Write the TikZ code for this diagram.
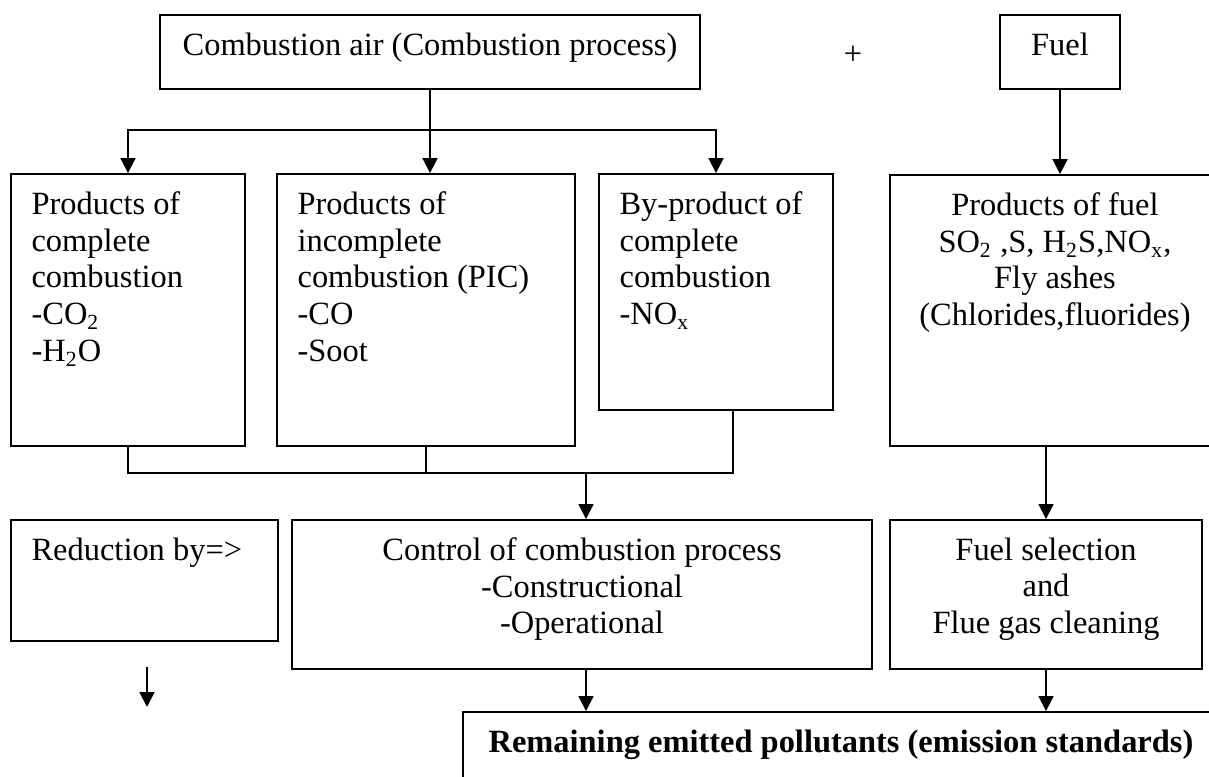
\documentclass[tikz,border=0pt]{standalone}
\usepackage{fontspec}
\setmainfont{Liberation Serif}
\usetikzlibrary{positioning, arrows.meta, fit}

\begin{document}
\begin{tikzpicture}[
  x=0.013cm, y=-0.013cm,
  font=\fontsize{12pt}{13.6pt}\selectfont,
  box/.style={rectangle, draw, line width=0.7pt, inner sep=0pt},
  ltxt/.style={anchor=north west, align=left, inner sep=0pt,
               xshift=0.273cm, yshift=-0.234cm},
  ctxt/.style={anchor=north, align=center, inner sep=0pt, yshift=-0.234cm},
  arr/.style={-{Triangle[length=5.5pt, width=5.5pt]}, line width=0.7pt},
  link/.style={line width=0.7pt},
]
  \useasboundingbox (0,0) rectangle (1209,776);

  % inputs
  \node[box, fit={(160,15) (700,89)},
        label={[ctxt]north:{Combustion air (Combustion process)}}] (air) {};
  \node[inner sep=0pt] (plus) at (853,55) {+};
  \node[box, fit={(1000,15) (1120,89)}, label={[ctxt]north:{Fuel}}] (fuel) {};

  % products
  \node[box, fit={(11,174) (245,446)},
        label={[ltxt]north west:{Products of\\complete\\combustion\\-CO\textsubscript{2}\\-H\textsubscript{2}O}}] (cpl) {};
  \node[box, fit={(277,174) (575,446)},
        label={[ltxt]north west:{Products of\\incomplete\\combustion (PIC)\\-CO\\-Soot}}] (pic) {};
  \node[box, fit={(599,174) (833,410)},
        label={[ltxt]north west:{By-product of\\complete\\combustion\\-NO\textsubscript{x}}}] (byp) {};
  \node[box, fit={(890,175) (1220,446)},
        label={[ctxt]north:{Products of fuel\\SO\textsubscript{2} ,S, H\textsubscript{2}S,NO\textsubscript{x},\\Fly ashes\\(Chlorides,fluorides)}}] (fprod) {};

  % measures
  \node[box, fit={(11,520) (278,641)},
        label={[ltxt]north west:{Reduction by=>}}] (red) {};
  \node[box, fit={(292,520) (872,669)},
        label={[ctxt]north:{Control of combustion process\\-Constructional\\-Operational}}] (ctrl) {};
  \node[box, fit={(890,520) (1202,669)},
        label={[ctxt]north:{Fuel selection\\and\\Flue gas cleaning}}] (fsel) {};
  \node[box, fit={(463,712) (1215,810)},
        label={[ltxt, xshift=0.065cm]north west:{\textbf{Remaining emitted pollutants (emission standards)}}}] (rem) {};

  % junctions
  \coordinate (split) at (430,130);
  \coordinate (merge) at (586,473);
  \coordinate (bypout) at (733,410);
  \coordinate (dn1) at (147,667);
  \coordinate (dn2) at (147,707);

  \draw[link] (air.south) -- (split);
  \draw[arr] (split) -| (cpl.north);
  \draw[arr] (split) -| (byp.north);
  \draw[arr] (split) -- (split |- pic.north);
  \draw[arr] (fuel) -- (fuel |- fprod.north);

  \draw[link] (cpl.south) |- (merge);
  \draw[link] (pic.south) -- (pic.south |- merge);
  \draw[link] (bypout) |- (merge);
  \draw[arr] (merge) -- (merge |- ctrl.north);
  \draw[arr] (fsel.north |- fprod.south) -- (fsel.north);

  \draw[arr] (merge |- ctrl.south) -- (merge |- rem.north);
  \draw[arr] (fsel) -- (fsel |- rem.north);
  \draw[arr] (dn1) -- (dn2);
\end{tikzpicture}
\end{document}
